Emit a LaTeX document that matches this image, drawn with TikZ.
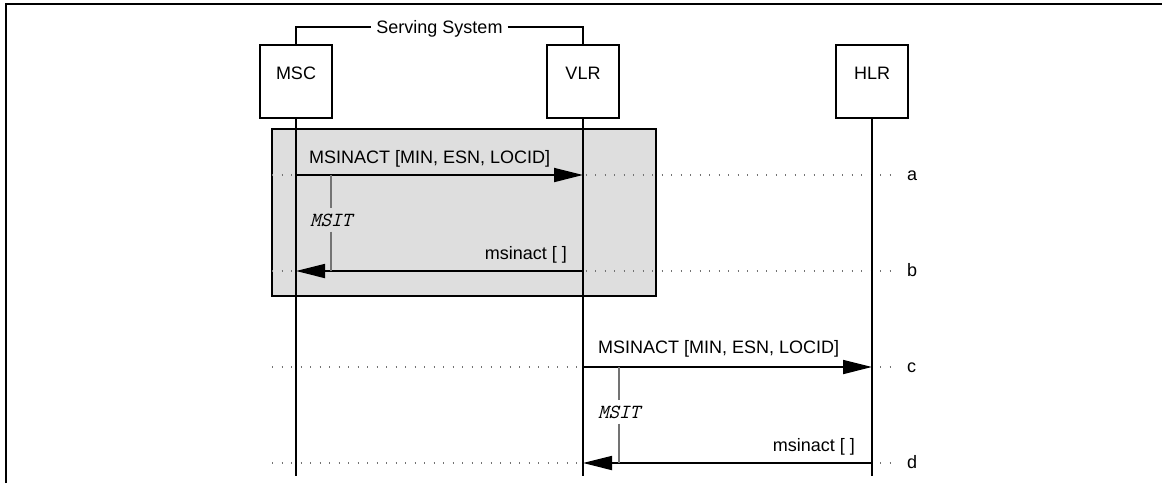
\documentclass[tikz,border=0pt]{standalone}
\usepackage{fontspec}
\setmainfont{Liberation Sans}
\usetikzlibrary{arrows.meta}
\begin{document}
\begin{tikzpicture}[x=1pt,y=-1pt,
  entity/.style={draw, line width=1.5pt, minimum width=72pt, inner sep=0pt,
    text height=35pt, text depth=38pt, font=\fontsize{18}{20}\selectfont},
  lifeline/.style={line width=1.8pt},
  bracket/.style={line width=1.4pt},
  msg/.style={line width=1.8pt, -{Triangle[length=29pt,width=14pt]}},
  guide/.style={black!55, line width=1.3pt, dash pattern=on 1.3pt off 8.2pt},
  lbl/.style={font=\fontsize{18}{20}\selectfont, inner sep=0pt},
  timer/.style={black!55, line width=1.5pt},
  tlbl/.style={font=\ttfamily\itshape\fontsize{20}{22}\selectfont, inner sep=0pt, inner ysep=5pt},
  shade/.style={draw, line width=1.5pt, fill=black!13}]
\useasboundingbox (0,0) rectangle (1162,483);
% frame
\draw[line width=2.2pt] (5.7,483) -- (5.7,4) -- (1162,4);
% entities
\node[entity, anchor=north] (msc) at (296,44) {MSC};
\node[entity, anchor=north] (vlr) at (583,44) {VLR};
\node[entity, anchor=north] (hlr) at (872,44) {HLR};
% serving system bracket
\node[lbl, anchor=base, inner xsep=5pt] (ss) at (439.5,33.5) {Serving System};
\coordinate (brk) at (0,27);
\draw[bracket] (msc.north) -- (msc.north |- brk) -- (ss.west |- brk);
\draw[bracket] (ss.east |- brk) -- (vlr.north |- brk) -- (vlr.north);
% shaded group
\draw[shade] (272,129) rectangle (656,296);
% rows
\foreach \r/\y in {a/175,b/271,c/367,d/463}{
  \coordinate (L\r) at (272,\y);
  \coordinate (R\r) at (897,\y);
  \draw[guide] (L\r) -- (R\r);
  \node[lbl, anchor=base west] (lab\r) at (907,\y+5) {\r};
}
% lifelines
\coordinate (bot) at (0,476);
\draw[lifeline] (msc.south) -- (msc.south |- bot);
\draw[lifeline] (vlr.south) -- (vlr.south |- bot);
\draw[lifeline] (hlr.south) -- (hlr.south |- bot);
% messages
\draw[msg] (msc.south |- La) -- (vlr.south |- La);
\draw[msg] (vlr.south |- Lb) -- (msc.south |- Lb);
\draw[msg] (vlr.south |- Lc) -- (hlr.south |- Lc);
\draw[msg] (hlr.south |- Ld) -- (vlr.south |- Ld);
% message labels
\node[lbl, anchor=base west] (m1) at (309,163) {MSINACT [MIN, ESN, LOCID]};
\node[lbl, anchor=base east] (m2) at (567,259) {msinact [ ]};
\node[lbl, anchor=base west] (m3) at (598,353) {MSINACT [MIN, ESN, LOCID]};
\node[lbl, anchor=base east] (m4) at (855,451) {msinact [ ]};
% timers
\node[tlbl] (t1) at (331,220) {MSIT};
\draw[timer] (t1.north |- La) -- (t1.north);
\draw[timer] (t1.south) -- (t1.south |- Lb);
\node[tlbl] (t2) at (619,412) {MSIT};
\draw[timer] (t2.north |- Lc) -- (t2.north);
\draw[timer] (t2.south) -- (t2.south |- Ld);
\end{tikzpicture}
\end{document}
